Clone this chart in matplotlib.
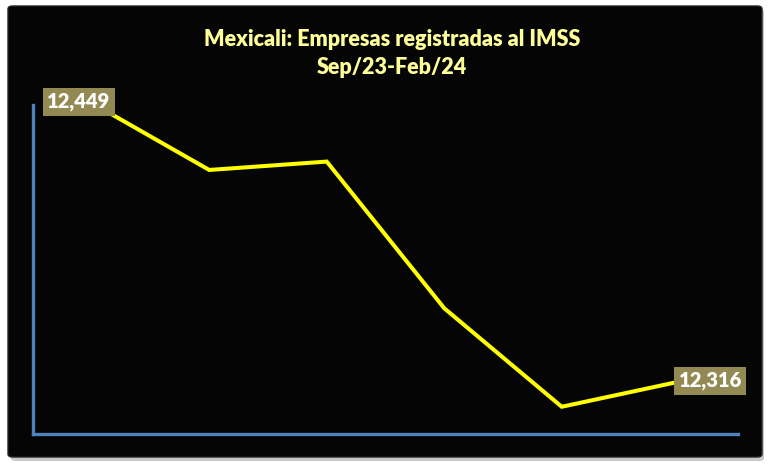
import matplotlib
matplotlib.use("Agg")
import matplotlib.pyplot as plt
from matplotlib.patches import FancyBboxPatch

plt.rcParams['font.family'] = ['Lato', 'DejaVu Sans']

# data
months = ['Sep/23', 'Oct/23', 'Nov/23', 'Dic/23', 'Ene/24', 'Feb/24']
empresas = [12449, 12417, 12421, 12351, 12304, 12316]
title1 = 'Mexicali: Empresas registradas al IMSS'
title2 = 'Sep/23-Feb/24'

fig = plt.figure(figsize=(7.71, 4.71), dpi=100)
fig.patch.set_facecolor('white')

W, H = 771.0, 471.0
# shadow + black panel
shadow = FancyBboxPatch((11 / W, 1 - 461 / H), 753 / W, 452 / H,
                        boxstyle='round,pad=0,rounding_size=0.006',
                        transform=fig.transFigure, facecolor='#c8c8c8',
                        edgecolor='none', zorder=0)
fig.patches.append(shadow)
panel = FancyBboxPatch((8 / W, 1 - 457 / H), 754 / W, 451 / H,
                       boxstyle='round,pad=0,rounding_size=0.006',
                       transform=fig.transFigure, facecolor='#050505',
                       edgecolor='#222222', linewidth=1, zorder=1)
fig.patches.append(panel)

ax = fig.add_axes([33 / W, 1 - 434 / H, 705 / W, 329 / H])
ax.set_facecolor('none')
ax.set_zorder(2)

x = list(range(len(months)))
ax.plot(x, empresas, color='#ffff00', linewidth=2.9, clip_on=False,
        solid_joinstyle='miter', zorder=3)
ax.set_xlim(-0.5, len(months) - 0.5)
ax.set_ylim(12291, 12448)

for s in ['top', 'right']:
    ax.spines[s].set_visible(False)
for s in ['left', 'bottom']:
    ax.spines[s].set_color('#4f81bd')
    ax.spines[s].set_linewidth(2.4)
ax.set_xticks([])
ax.set_yticks([])

# first and last value labels
lab_style = dict(fontsize=14.5, fontweight='heavy', color='white', ha='center',
                 va='center', textcoords='offset pixels', zorder=5,
                 annotation_clip=False,
                 bbox=dict(boxstyle='square,pad=0.22', facecolor='#938953',
                           edgecolor='none'))
ax.annotate(f'{empresas[0]:,}', (x[0], empresas[0]), xytext=(-13, 1),
            **lab_style)
ax.annotate(f'{empresas[-1]:,}', (x[-1], empresas[-1]), xytext=(31, 1),
            **lab_style)

fig.text(392 / W, 1 - 40 / H, title1, ha='center', va='center',
         fontsize=15.5, fontweight='heavy', color='#ffff99')
fig.text(392 / W, 1 - 67 / H, title2, ha='center', va='center',
         fontsize=15.5, fontweight='heavy', color='#ffff99')

fig.savefig('out.png', dpi=100, facecolor='white')
